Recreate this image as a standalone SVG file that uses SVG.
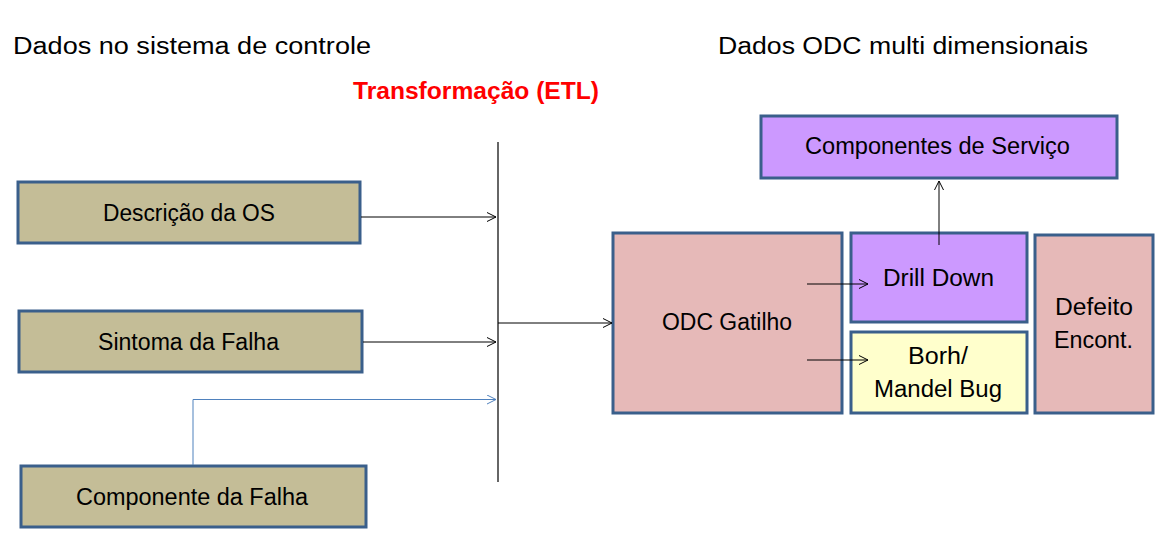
<svg xmlns="http://www.w3.org/2000/svg" width="1169" height="546" viewBox="0 0 1169 546">
<style>
text{font-family:"Liberation Sans",Arial,sans-serif;font-size:23px;fill:#000}
.box{stroke:#3a5f8b;stroke-width:3}
.tan{fill:#c4bd97}
.pur{fill:#cc99ff}
.pink{fill:#e6b9b8}
.yel{fill:#ffffcc}
.c{fill:none;stroke:#000;stroke-width:1}
.cb{fill:none;stroke:#4f81bd;stroke-width:1}
.title{font-size:23px}
.etl{fill:#ff0000;font-weight:bold;font-size:23px}
</style>
<defs>
<marker id="ah" markerWidth="12" markerHeight="12" refX="10" refY="5" orient="auto" markerUnits="userSpaceOnUse">
<path d="M1,0.5 L10,5 L1,9.5" fill="none" stroke="#000" stroke-width="1"/>
</marker>
<marker id="ahb" markerWidth="12" markerHeight="12" refX="10" refY="5" orient="auto" markerUnits="userSpaceOnUse">
<path d="M1,0.5 L10,5 L1,9.5" fill="none" stroke="#4f81bd" stroke-width="1"/>
</marker>
</defs>
<rect width="1169" height="546" fill="#fff"/>
<text class="title" x="13" y="54" textLength="358" lengthAdjust="spacingAndGlyphs">Dados no sistema de controle</text>
<text class="title" x="718" y="54" textLength="370" lengthAdjust="spacingAndGlyphs">Dados ODC multi dimensionais</text>
<text class="etl" x="353" y="99" textLength="246" lengthAdjust="spacingAndGlyphs">Transformação (ETL)</text>

<g id="descricao">
<rect class="box tan" x="18" y="182" width="342" height="61"/>
<text x="103" y="221" textLength="172" lengthAdjust="spacingAndGlyphs">Descrição da OS</text>
</g>
<g id="sintoma">
<rect class="box tan" x="19" y="311" width="343" height="61"/>
<text x="98" y="350" textLength="181" lengthAdjust="spacingAndGlyphs">Sintoma da Falha</text>
</g>
<g id="componente">
<rect class="box tan" x="21" y="466" width="345" height="61"/>
<text x="76" y="505" textLength="232" lengthAdjust="spacingAndGlyphs">Componente da Falha</text>
</g>
<g id="odc">
<rect class="box pink" x="613" y="233" width="229" height="180"/>
<text x="662" y="330" textLength="130" lengthAdjust="spacingAndGlyphs">ODC Gatilho</text>
</g>
<g id="drill">
<rect class="box pur" x="851" y="233" width="176" height="89"/>
<text x="883" y="286" textLength="111" lengthAdjust="spacingAndGlyphs">Drill Down</text>
</g>
<g id="borh">
<rect class="box yel" x="851" y="332" width="176" height="81"/>
<text x="908" y="364" textLength="60" lengthAdjust="spacingAndGlyphs">Borh/</text>
<text x="874" y="397" textLength="128" lengthAdjust="spacingAndGlyphs">Mandel Bug</text>
</g>
<g id="defeito">
<rect class="box pink" x="1035" y="235" width="118" height="178"/>
<text x="1055" y="315" textLength="78" lengthAdjust="spacingAndGlyphs">Defeito</text>
<text x="1054" y="348" textLength="79" lengthAdjust="spacingAndGlyphs">Encont.</text>
</g>
<g id="servico">
<rect class="box pur" x="761" y="116" width="356" height="62"/>
<text x="805" y="154" textLength="265" lengthAdjust="spacingAndGlyphs">Componentes de Serviço</text>
</g>

<g id="connectors">
<line x1="498" y1="142" x2="498" y2="482" stroke="#333" stroke-width="1.5"/>
<line class="c" x1="361" y1="217" x2="496" y2="217" marker-end="url(#ah)"/>
<line class="c" x1="363" y1="342" x2="496" y2="342" marker-end="url(#ah)"/>
<polyline class="cb" points="193,465 193,399.5 496,399.5" marker-end="url(#ahb)"/>
<line class="c" x1="498" y1="323" x2="612" y2="323" marker-end="url(#ah)"/>
<line class="c" x1="807" y1="284" x2="868" y2="284" marker-end="url(#ah)"/>
<line class="c" x1="807" y1="360" x2="868" y2="360" marker-end="url(#ah)"/>
<line class="c" x1="939" y1="245" x2="939" y2="181" marker-end="url(#ah)"/>
</g>
</svg>
